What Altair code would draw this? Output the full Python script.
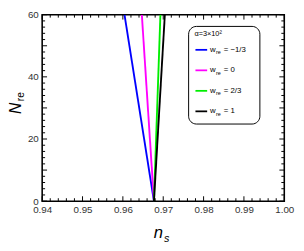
import altair as alt
import pandas as pd
import numpy as np

# ---- data ----
series = ["w_re = -1/3", "w_re = 0", "w_re = 2/3", "w_re = 1"]
label_values = ["\u22121/3", "0", "2/3", "1"]
colors = ["#0000ff", "#ff00ff", "#00ee00", "#000000"]
ns_bottom = [0.9677, 0.9677, 0.9677, 0.9677]
ns_top = [0.9604, 0.9647, 0.9693, 0.9704]
N_bottom = [0, 0, 0, 0]
N_top = [60, 60, 60, 60]

x_major = [0.94, 0.95, 0.96, 0.97, 0.98, 0.99, 1.00]
y_major = [0, 10, 20, 30, 40, 50, 60]

W, H = 248, 191
FONT = "Liberation Sans"

x_minor = [round(v, 3) for v in np.arange(0.94, 1.0001, 0.002) if min(abs(v - m) for m in x_major) > 1e-6]
y_minor = [v for v in range(0, 61, 2) if v % 10 != 0]

rows = []
for s, c, a, b, na, nb in zip(series, colors, ns_bottom, ns_top, N_bottom, N_top):
    rows.append({"series": s, "ns": a, "N": na, "order": 0})
    rows.append({"series": s, "ns": b, "N": nb, "order": 1})
df = pd.DataFrame(rows)

xs = alt.Scale(domain=[0.94, 1.0], nice=False)
ys = alt.Scale(domain=[0, 60], nice=False)

base_axes = alt.Chart(pd.DataFrame({"ns": [0.94], "N": [0]})).mark_point(opacity=0).encode(
    x=alt.X("ns:Q", scale=xs, axis=alt.Axis(values=x_major, labelExpr="format(datum.value, '.2f')",
                                           ticks=False, domain=False, grid=False, title=None,
                                           labelFont=FONT, labelFontSize=10, labelColor="#333",
                                           labelPadding=4, labelFlush=False)),
    y=alt.Y("N:Q", scale=ys, axis=alt.Axis(values=y_major, ticks=False, domain=False, grid=False,
                                          title=None, labelFont=FONT, labelFontSize=10,
                                          labelColor="#333", labelPadding=4, labelFlush=False)),
)

lines = alt.Chart(df).mark_line(strokeWidth=1.9, clip=True).encode(
    x=alt.X("ns:Q", scale=xs),
    y=alt.Y("N:Q", scale=ys),
    color=alt.Color("series:N", scale=alt.Scale(domain=series, range=colors), legend=None),
    order="order:Q",
)

def xticks(vals, length):
    d = pd.DataFrame({"ns": vals})
    b = alt.Chart(d).mark_rule(color="black", strokeWidth=1)
    bottom = b.encode(x=alt.X("ns:Q", scale=xs), y=alt.value(H), y2=alt.value(H - length))
    top = b.encode(x=alt.X("ns:Q", scale=xs), y=alt.value(0), y2=alt.value(length))
    return [bottom, top]

def yticks(vals, length):
    d = pd.DataFrame({"N": vals})
    b = alt.Chart(d).mark_rule(color="black", strokeWidth=1)
    left = b.encode(y=alt.Y("N:Q", scale=ys), x=alt.value(0), x2=alt.value(length))
    right = b.encode(y=alt.Y("N:Q", scale=ys), x=alt.value(W), x2=alt.value(W - length))
    return [left, right]

tick_layers = xticks(x_major, 5) + xticks(x_minor, 3) + yticks(y_major, 5) + yticks(y_minor, 3)

one = pd.DataFrame({"a": [0]})

# legend box
box = alt.Chart(one).mark_rect(fill="white", stroke="black", strokeWidth=1, cornerRadius=8).encode(
    x=alt.value(150), x2=alt.value(223), y=alt.value(12), y2=alt.value(112))
title = alt.Chart(one).mark_text(text="\u03b1=3\u00d710\u00b2", font=FONT, fontSize=7.5, align="left",
                                 baseline="middle", color="black").encode(x=alt.value(156), y=alt.value(20))
leg = [box, title]
for i, (c, lv) in enumerate(zip(colors, label_values)):
    yy = 36 + 21 * i
    leg.append(alt.Chart(one).mark_rule(color=c, strokeWidth=1.8).encode(
        x=alt.value(157), x2=alt.value(169), y=alt.value(yy)))
    leg.append(alt.Chart(one).mark_text(text="w", font=FONT, fontSize=8, align="left", baseline="middle").encode(
        x=alt.value(172), y=alt.value(yy)))
    leg.append(alt.Chart(one).mark_text(text="re", font=FONT, fontSize=5.5, align="left", baseline="middle").encode(
        x=alt.value(178), y=alt.value(yy + 2.5)))
    leg.append(alt.Chart(one).mark_text(text="= " + lv, font=FONT, fontSize=8, align="left", baseline="middle").encode(
        x=alt.value(186), y=alt.value(yy)))

# axis titles
ytitle_N = alt.Chart(one).mark_text(text="N", font=FONT, fontSize=16, fontStyle="italic", angle=270,
                                     align="center", baseline="middle").encode(x=alt.value(-27), y=alt.value(96))
ytitle_re = alt.Chart(one).mark_text(text="re", font=FONT, fontSize=10.5, angle=270,
                                      align="center", baseline="middle").encode(x=alt.value(-22), y=alt.value(84))
xtitle_n = alt.Chart(one).mark_text(text="n", font=FONT, fontSize=17, fontStyle="italic",
                                     align="center", baseline="middle").encode(x=alt.value(119), y=alt.value(224))
xtitle_s = alt.Chart(one).mark_text(text="s", font=FONT, fontSize=11, fontStyle="italic",
                                     align="center", baseline="middle").encode(x=alt.value(127.5), y=alt.value(230))

chart = alt.layer(base_axes, lines, *tick_layers, *leg, ytitle_N, ytitle_re, xtitle_n, xtitle_s).properties(
    width=W, height=H,
    autosize=alt.AutoSizeParams(type="none"),
    padding={"left": 35, "top": 4, "right": 12, "bottom": 40},
).configure_view(stroke="black", strokeWidth=1.6)

chart.save("out.html", embed_options={"renderer": "svg", "actions": False})
